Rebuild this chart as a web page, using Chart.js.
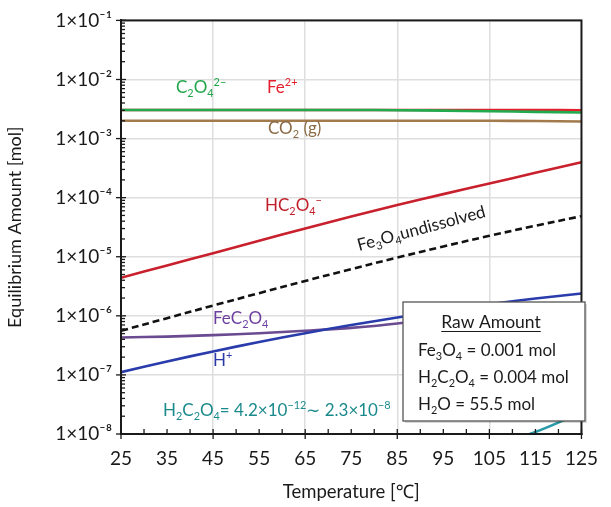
<!DOCTYPE html>
<html>
<head>
<meta charset="utf-8">
<script src="https://cdn.jsdelivr.net/npm/chart.js@4.4.1/dist/chart.umd.min.js"></script>
<style>
  html, body { margin: 0; padding: 0; background: #fff; }
  #wrap { width: 611px; height: 507px; }
</style>
</head>
<body>
<div id="wrap"><canvas id="c" width="611" height="507"></canvas></div>
<script>
const temps = [25, 35, 45, 55, 65, 75, 85, 95, 105, 115, 125];
const c2o4 = [3.05e-3, 3.05e-3, 3.05e-3, 3.05e-3, 3.05e-3, 3.05e-3, 3.02e-3, 2.97e-3, 2.90e-3, 2.83e-3, 2.77e-3];
const fe2 = [3.05e-3, 3.05e-3, 3.05e-3, 3.05e-3, 3.05e-3, 3.05e-3, 3.05e-3, 3.05e-3, 3.04e-3, 3.03e-3, 3.02e-3];
const co2 = [2.0e-3, 2.0e-3, 2.0e-3, 2.0e-3, 2.0e-3, 2.0e-3, 2.0e-3, 2.0e-3, 2.0e-3, 1.98e-3, 1.95e-3];
const hc2o4 = [4.40e-6, 7.13e-6, 1.148e-5, 1.862e-5, 3.02e-5, 4.79e-5, 7.50e-5, 1.148e-4, 1.738e-4, 2.63e-4, 3.98e-4];
const fe3o4 = [5.57e-7, 9.14e-7, 1.493e-6, 2.42e-6, 3.89e-6, 6.18e-6, 9.68e-6, 1.493e-5, 2.26e-5, 3.35e-5, 4.85e-5];
const fec2o4 = [4.31e-7, 4.45e-7, 4.72e-7, 5.08e-7, 5.60e-7, 6.25e-7, 7.40e-7, 9.6e-7, 1.30e-6, 1.42e-6, 1.45e-6];
const hplus = [1.114e-7, 1.688e-7, 2.497e-7, 3.606e-7, 5.08e-7, 6.985e-7, 9.38e-7, 1.229e-6, 1.571e-6, 1.960e-6, 2.388e-6];
const h2c2o4 = [4.2e-12, 1.41e-11, 4.27e-11, 1.17e-10, 2.95e-10, 6.92e-10, 1.51e-9, 3.16e-9, 6.0e-9, 1.08e-8, 2.3e-8];
const xGridAt = [45, 65, 85, 105];
const supDigits = { "0": "⁰", "1": "¹", "2": "²", "3": "³", "4": "⁴", "5": "⁵", "6": "⁶", "7": "⁷", "8": "⁸", "9": "⁹" };

const FONT = "Lato, 'Noto Sans', sans-serif";
const INK = "#1a1a1a";

function pts(arr) { return temps.map((t, i) => ({ x: t, y: arr[i] })); }
function isDecade(v) { const l = Math.log10(v); return Math.abs(l - Math.round(l)) < 1e-6; }
function expLabel(v) {
  const e = Math.round(Math.log10(v));
  return "1×10⁻" + String(Math.abs(e)).split("").map(ch => supDigits[ch]).join("");
}

function line(label, arr, color, extra) {
  return Object.assign({
    label, data: pts(arr), borderColor: color, borderWidth: 2.6,
    pointRadius: 0, fill: false, tension: 0.35,
  }, extra || {});
}

// rich text: parts = [[text, ""|"b"|"p"], ...]
function rich(ctx, x, y, parts, size, color, align) {
  const small = size * 0.64;
  let w = 0;
  const widths = parts.map(([t, m]) => {
    ctx.font = (m ? small : size) + "px " + FONT;
    const ww = ctx.measureText(t).width;
    w += ww;
    return ww;
  });
  let cx = align === "center" ? x - w / 2 : x;
  ctx.fillStyle = color;
  ctx.textBaseline = "alphabetic";
  ctx.textAlign = "left";
  parts.forEach(([t, m], i) => {
    ctx.font = (m ? small : size) + "px " + FONT;
    const dy = m === "b" ? size * 0.22 : m === "p" ? -size * 0.42 : 0;
    ctx.fillText(t, cx, y + dy);
    cx += widths[i];
  });
  return w;
}

const decor = {
  id: "decor",
  afterDatasetsDraw(chart) {
    const { ctx, chartArea: a, scales: { x, y } } = chart;
    ctx.save();
    // frame
    ctx.strokeStyle = INK;
    ctx.lineWidth = 2;
    ctx.strokeRect(a.left, a.top, a.right - a.left, a.bottom - a.top);
    // x ticks
    ctx.lineWidth = 1.3;
    for (let t = 25; t <= 125; t += 5) {
      const px = x.getPixelForValue(t);
      const big = (t - 25) % 20 === 0;
      ctx.beginPath();
      ctx.moveTo(px, a.bottom - 5);
      ctx.lineTo(px, a.bottom + (big ? 5 : 0));
      ctx.stroke();
    }
    // y ticks
    for (let e = -8; e <= -1; e++) {
      for (let m = 1; m <= 9; m++) {
        if (e === -1 && m > 1) break;
        const py = y.getPixelForValue(m * Math.pow(10, e));
        ctx.beginPath();
        ctx.moveTo(a.left - (m === 1 ? 5 : 0), py);
        ctx.lineTo(a.left + (m === 1 ? 5 : 4), py);
        ctx.stroke();
      }
    }
    // series labels
    rich(ctx, 176, 93, [["C", ""], ["2", "b"], ["O", ""], ["4", "b"], ["2−", "p"]], 17, "#1fa64a");
    rich(ctx, 267, 93, [["Fe", ""], ["2+", "p"]], 17, "#e3202c");
    rich(ctx, 268, 134, [["CO", ""], ["2", "b"], [" (g)", ""]], 17, "#8a6a45");
    rich(ctx, 265, 211, [["HC", ""], ["2", "b"], ["O", ""], ["4", "b"], ["−", "p"]], 17, "#c01e28");
    rich(ctx, 213, 324, [["FeC", ""], ["2", "b"], ["O", ""], ["4", "b"]], 17, "#6b3fa0");
    rich(ctx, 213, 366, [["H", ""], ["+", "p"]], 17, "#2a3aa8");
    rich(ctx, 163, 416, [["H", ""], ["2", "b"], ["C", ""], ["2", "b"], ["O", ""], ["4", "b"],
      ["= 4.2×10", ""], ["−12", "p"], ["∼ 2.3×10", ""], ["−8", "p"]], 17, "#1a8a8c");
    ctx.save();
    ctx.translate(359, 251);
    ctx.rotate(-15 * Math.PI / 180);
    rich(ctx, 0, 0, [["Fe", ""], ["3", "b"], ["O", ""], ["4", "b"], ["undissolved", ""]], 17, INK);
    ctx.restore();
    // raw amount box
    ctx.fillStyle = "rgba(0,0,0,0.15)";
    ctx.fillRect(405, 304, 182, 119);
    ctx.fillStyle = "#fff";
    ctx.fillRect(403, 302, 182, 119);
    ctx.strokeStyle = "#555";
    ctx.lineWidth = 1.3;
    ctx.strokeRect(403, 302, 182, 119);
    const tw = rich(ctx, 491, 328, [["Raw Amount", ""]], 17.5, INK, "center");
    ctx.strokeStyle = INK;
    ctx.lineWidth = 1;
    ctx.beginPath();
    ctx.moveTo(491 - tw / 2, 331.5);
    ctx.lineTo(491 + tw / 2, 331.5);
    ctx.stroke();
    rich(ctx, 418, 356, [["Fe", ""], ["3", "b"], ["O", ""], ["4", "b"], [" = 0.001 mol", ""]], 17, INK);
    rich(ctx, 418, 383, [["H", ""], ["2", "b"], ["C", ""], ["2", "b"], ["O", ""], ["4", "b"], [" = 0.004 mol", ""]], 17, INK);
    rich(ctx, 418, 410, [["H", ""], ["2", "b"], ["O = 55.5 mol", ""]], 17, INK);
    ctx.restore();
  },
};

new Chart(document.getElementById("c"), {
  type: "line",
  data: {
    datasets: [
      line("C2O4 2-", c2o4, "#22ab4e"),
      line("Fe2+", fe2, "#e3202c"),
      line("CO2 (g)", co2, "#a27a4c"),
      line("HC2O4-", hc2o4, "#c8202c"),
      line("Fe3O4 undissolved", fe3o4, "#111", { borderDash: [7, 4] }),
      line("H+", hplus, "#2a3cab"),
      line("FeC2O4", fec2o4, "#6a4a90"),
      line("H2C2O4", h2c2o4, "#2a9aa8"),
    ],
  },
  options: {
    responsive: false,
    animation: false,
    layout: { padding: { top: 13, right: 17, left: 0, bottom: 0 } },
    plugins: { legend: { display: false }, tooltip: { enabled: false } },
    scales: {
      x: {
        type: "linear", min: 25, max: 125,
        afterFit(s) { s.height = 73; },
        ticks: {
          stepSize: 5, autoSkip: false, maxRotation: 0, padding: 13,
          color: "#1a1a1a", font: { family: FONT, size: 19 },
          callback: v => ((v - 25) % 10 === 0 ? String(v) : ""),
        },
        grid: {
          drawTicks: false, lineWidth: 1.5,
          color: c => (c.tick && xGridAt.includes(c.tick.value) ? "#dedede" : "rgba(0,0,0,0)"),
        },
        border: { color: INK, width: 2 },
        title: { display: true, text: "Temperature [℃]", color: "#1a1a1a", font: { family: FONT, size: 18.5 }, padding: { top: 8 } },
      },
      y: {
        type: "logarithmic", min: 1e-8, max: 1e-1,
        afterFit(s) { s.width = 121; },
        ticks: {
          autoSkip: false, padding: 9, color: "#1a1a1a", font: { family: FONT, size: 19 },
          callback: v => (isDecade(v) ? expLabel(v) : ""),
        },
        grid: {
          drawTicks: false, lineWidth: 1.5,
          color: c => (c.tick && isDecade(c.tick.value) ? "#dedede" : "rgba(0,0,0,0)"),
        },
        border: { color: INK, width: 2 },
        title: { display: true, text: "Equilibrium Amount [mol]", color: "#1a1a1a", font: { family: FONT, size: 18 }, padding: { bottom: 4 } },
      },
    },
  },
  plugins: [decor],
});
</script>
</body>
</html>
